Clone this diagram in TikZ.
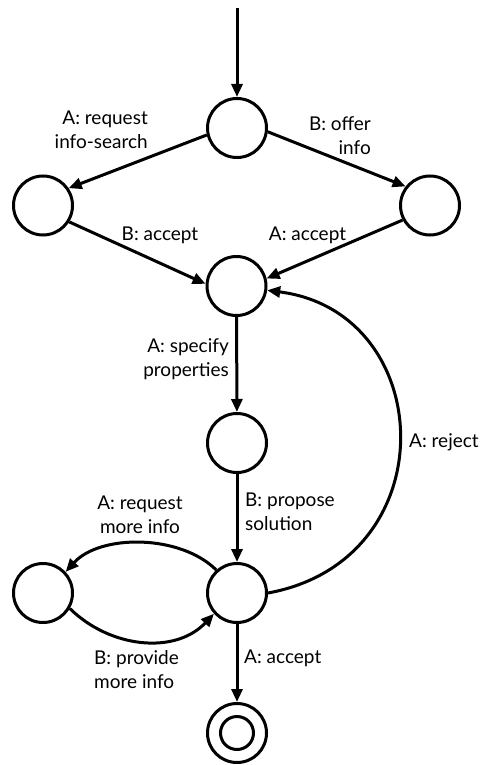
\documentclass[tikz,border=0pt]{standalone}
\usepackage{fontspec}
\setmainfont{Lato}
\usetikzlibrary{arrows.meta}
\begin{document}
\begin{tikzpicture}[x=1pt,y=1pt,
  state/.style={circle,draw,line width=3pt,minimum size=59pt,inner sep=0pt},
  lbl/.style={inner sep=0pt,font=\fontsize{19}{24}\selectfont},
  trans/.style={line width=3pt,-{Triangle[length=13pt,width=11pt]}}]
\useasboundingbox (0,0) rectangle (482,-765);
% states
\node[state] (s0) at (237,-128) {};
\node[state] (s1) at (43,-205.5) {};
\node[state] (s2) at (430,-205.5) {};
\node[state] (s3) at (236.5,-286) {};
\node[state] (s4) at (237,-443) {};
\node[state] (s5) at (237,-593) {};
\node[state] (s6) at (43,-593) {};
\node[state] (fin) at (237,-733) {};
\node[circle,draw,line width=3pt,minimum size=33pt,inner sep=0pt] (finin) at (fin) {};
\coordinate (start) at (237,-8);
% transitions
\draw[trans] (start) -- (s0);
\draw[trans] (s0.193) -- (s1.34);
\draw[trans] (s0.-7) -- (s2.142);
\draw[trans] (s1.-32) -- (s3.176);
\draw[trans] (s2.208) -- (s3.14);
\draw[trans] (s3) -- (s4);
\draw[trans] (s4) -- (s5);
\draw[trans] (s5) -- (fin);
\draw[trans] (s5.east) .. controls (448,-560) and (438,-312) .. (s3.-8);
\draw[trans] (s5.132) .. controls (180,-534) and (100,-534) .. (s6.43);
\draw[trans] (s6.-30) .. controls (110,-648) and (175,-655) .. (s5.-138);
% labels
\node[lbl,align=right,anchor=east] (l01) at (148,-130) {A: request\\info-search};
\node[lbl,align=right,anchor=east] (l02) at (371,-136) {B: offer\\info};
\node[lbl,anchor=base] (l13) at (160,-240) {B: accept};
\node[lbl,anchor=base] (l23) at (307.5,-240) {A: accept};
\node[lbl,align=right,anchor=east] (l34) at (229,-359) {A: specify\\properties};
\node[lbl,anchor=base west] (l53) at (409,-447) {A: reject};
\node[lbl,align=left,anchor=west] (l45) at (245,-512) {B: propose\\solution};
\node[lbl,align=center] (l56) at (140,-515) {A: request\\more info};
\node[lbl,align=left,anchor=west] (l65) at (94,-670) {B: provide\\more info};
\node[lbl,anchor=base west] (l5f) at (244,-663) {A: accept};
\end{tikzpicture}
\end{document}
